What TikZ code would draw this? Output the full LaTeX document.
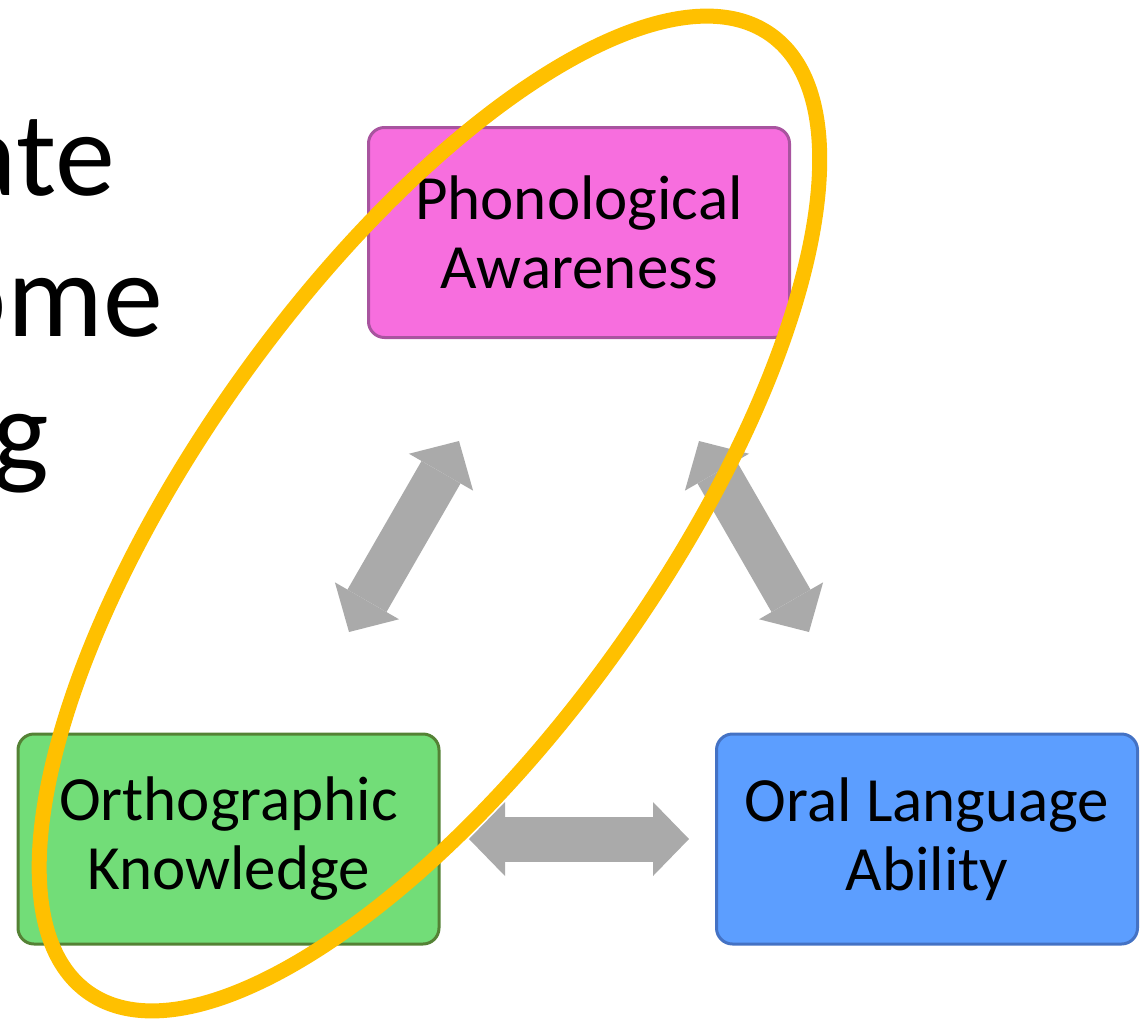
\documentclass[tikz,border=0pt]{standalone}
\usepackage{fontspec}
\setmainfont{Carlito}
\usetikzlibrary{arrows.meta}

\definecolor{phonofill}{HTML}{F76EDE}
\definecolor{phonoline}{HTML}{A8549F}
\definecolor{orthofill}{HTML}{72DD78}
\definecolor{ortholine}{HTML}{548235}
\definecolor{oralfill}{HTML}{5C9EFF}
\definecolor{oralline}{HTML}{4472C4}
\definecolor{linkgrey}{HTML}{AAAAAA}
\definecolor{ringgold}{HTML}{FFC000}

\tikzset{
  conceptbox/.style={draw, line width=3pt, rounded corners=16pt,
    minimum width=421pt, minimum height=210pt, inner sep=0pt,
    align=center, font=\fontsize{63}{69}\selectfont},
  titlepart/.style={anchor=base east, inner sep=0pt,
    font=\fontsize{120}{139}\selectfont},
  biarrow/.style={draw=linkgrey, line width=45pt,
    {Triangle[width=74pt,length=36pt,line width=0pt]}-{Triangle[width=74pt,length=36pt,line width=0pt]}},
  ring/.style={draw=ringgold, line width=15pt}
}

\begin{document}
\begin{tikzpicture}[x=1pt,y=-1pt]
  \useasboundingbox (0,0) rectangle (1140,1020);
  \clip (0,0) rectangle (1140,1020);

  % heading running in from the left
  \node[titlepart] (h1) at (115,195) {ate};
  \node[titlepart] (h2) at (163,336) {ome};
  \node[titlepart] (h3) at (49,472) {g};

  % the three skills
  \node[conceptbox, fill=phonofill, draw=phonoline] (phono) at (579,232.5)
    {Phonological\\Awareness};
  \node[conceptbox, fill=orthofill, draw=ortholine] (ortho) at (228.5,839)
    {Orthographic\\Knowledge};
  \node[conceptbox, fill=oralfill, draw=oralline] (oral) at (927,839)
    {Oral Language\\Ability};

  % ends of the two-way links
  \coordinate (po) at (459,441);
  \coordinate (op) at (349,632);
  \coordinate (pl) at (699,441);
  \coordinate (lp) at (809,632);
  \coordinate (ol) at (469,839);
  \coordinate (lo) at (689,839);

  \draw[biarrow] (op) -- (po);
  \draw[biarrow] (pl) -- (lp);
  \draw[biarrow] (ol) -- (lo);

  % highlight ring around phonological and orthographic skills
  \coordinate (ringc) at (429.5,513.5);
  \draw[ring, rotate around={54.5:(ringc)}] (ringc) ellipse (588pt and 232pt);
\end{tikzpicture}
\end{document}
